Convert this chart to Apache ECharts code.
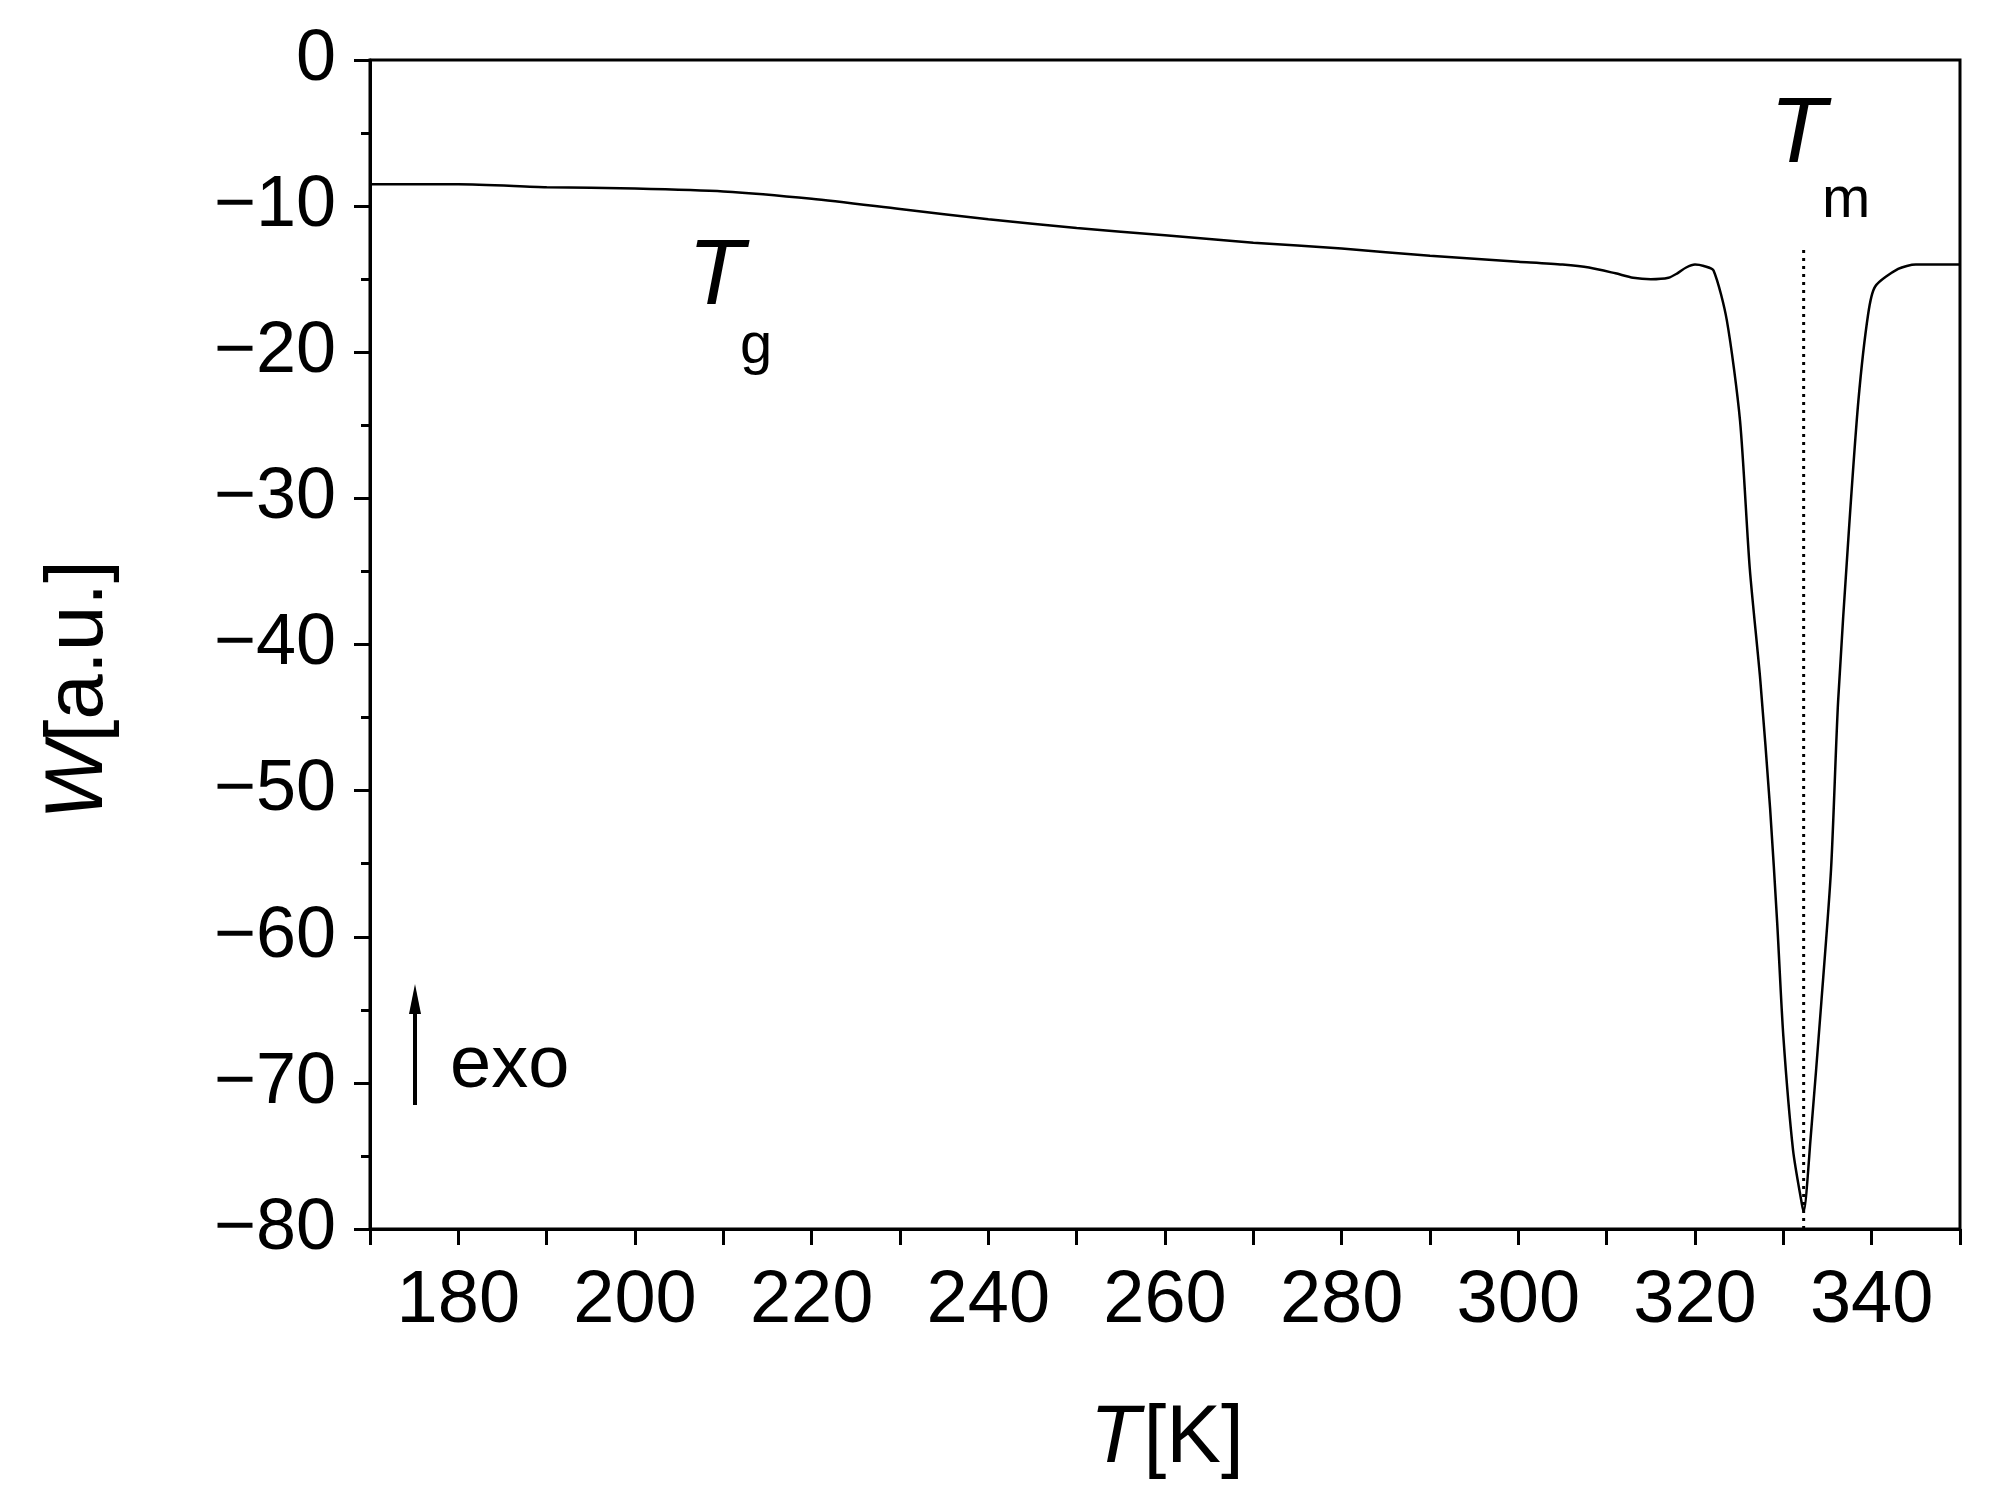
<!DOCTYPE html>
<html><head><meta charset="utf-8">
<script src="https://cdn.jsdelivr.net/npm/echarts@6/dist/echarts.min.js"></script>
<style>html,body{margin:0;padding:0;background:#fff}#c{width:1993px;height:1505px}</style>
</head><body><div id="c"></div>
<script>
const temps = [170,180,190,200,210,220,230,240,250,260,270,280,290,300,305,308,311,313,315,317,318,319,320,321,322.1,323.6,325.1,326.2,327.4,328.5,329.3,330,331.1,332.1,332.3,333.1,334.3,335.4,336.2,337.4,338.5,339.6,340.4,343,345,347,350];
const heat  = [-8.5,-8.5,-8.7,-8.8,-9.0,-9.5,-10.2,-10.9,-11.5,-12.0,-12.5,-12.9,-13.4,-13.8,-14.0,-14.2,-14.6,-14.9,-15.0,-14.9,-14.6,-14.2,-14.0,-14.1,-14.4,-17.8,-24.7,-34.8,-42.5,-51.2,-59,-66.8,-74.6,-78.3,-78.8,-73.7,-64.5,-55.4,-43.9,-32.4,-23.3,-17.4,-15.5,-14.3,-14.0,-14.0,-14.0];
const tmLine = [[332.3,-13],[332.3,-80]];
const xTicks = [180,200,220,240,260,280,300,320,340];

const F = '"Liberation Sans", Arial, sans-serif';
const chart = echarts.init(document.getElementById('c'));
chart.setOption({
  animation:false,
  grid:{left:370,right:33,top:60,bottom:276},
  xAxis:{type:'value',min:170,max:350,interval:10,
    axisLine:{onZero:false,lineStyle:{color:'#000',width:3}},
    axisTick:{length:16,lineStyle:{width:3,color:'#000'}},
    splitLine:{show:false},
    axisLabel:{margin:36,fontSize:74,fontFamily:F,color:'#000',
      formatter:v=>xTicks.includes(v)?String(v):''}},
  yAxis:{type:'value',min:-80,max:0,interval:10,
    axisLine:{onZero:false,lineStyle:{color:'#000',width:3}},
    axisTick:{length:16,lineStyle:{width:3,color:'#000'}},
    minorTick:{show:true,splitNumber:2,length:9,lineStyle:{width:3,color:'#000'}},
    splitLine:{show:false},
    axisLabel:{margin:34,fontSize:72,fontFamily:F,color:'#000',formatter:v=>v<0?'\u2212'+(-v):String(v)}},
  series:[
    {type:'line',data:temps.map((t,i)=>[t,heat[i]]),showSymbol:false,smooth:0.25,
     lineStyle:{color:'#000',width:2.5}},
    {type:'line',data:tmLine,showSymbol:false,lineStyle:{color:'#000',width:3,type:[3,5]}}
  ],
  graphic:[
    {type:'rect',shape:{x:370,y:60,width:1590,height:1169},style:{fill:'none',stroke:'#000',lineWidth:3},z:10},
    {type:'text',left:688,top:232,style:{text:'T',font:'italic 92px '+F,fill:'#000'}},
    {type:'text',left:740,top:318,style:{text:'g',font:'58px '+F,fill:'#000'}},
    {type:'text',left:1770,top:90,style:{text:'T',font:'italic 92px '+F,fill:'#000'}},
    {type:'text',left:1822,top:172,style:{text:'m',font:'58px '+F,fill:'#000'}},
    {type:'line',shape:{x1:415,y1:1105,x2:415,y2:995},style:{stroke:'#000',lineWidth:4}},
    {type:'polygon',shape:{points:[[409,1014],[421,1014],[415,984]]},style:{fill:'#000'}},
    {type:'text',left:450,top:1030,style:{text:'exo',font:'74px '+F,fill:'#000'}},
    {type:'text',left:1090,top:1398,style:{rich:{i:{font:'italic 82px '+F,fill:'#000'},n:{font:'82px '+F,fill:'#000'}},text:'{i|T} {n|[K]}'}},
    {type:'text',x:38,y:690,rotation:Math.PI/2,style:{rich:{i:{font:'italic 82px '+F,fill:'#000'},n:{font:'82px '+F,fill:'#000'}},text:'{i|W}{n|[a.u.]}',align:'center',verticalAlign:'top'}}
  ]
});
</script></body></html>
